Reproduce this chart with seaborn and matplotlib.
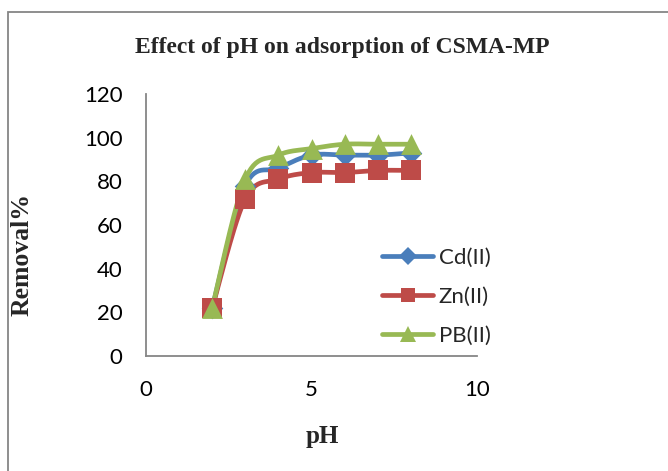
import numpy as np
import pandas as pd
import matplotlib
matplotlib.use("Agg")
import matplotlib.pyplot as plt
from matplotlib.lines import Line2D
from matplotlib.patches import Rectangle
import seaborn as sns

# pH values and removal percentages for each metal ion
ph = [2, 3, 4, 5, 6, 7, 8]
cd_removal = [22, 78, 86, 92, 92, 92, 93]
zn_removal = [22, 72, 81, 84, 84, 85, 85]
pb_removal = [22, 81, 92, 95, 97, 97, 97]

series_names = ["Cd(II)", "Zn(II)", "PB(II)"]
series_values = [cd_removal, zn_removal, pb_removal]
colors = ["#4a7ebb", "#be4b48", "#98b954"]
markers = ["D", "s", "^"]
marker_sizes = [11, 14, 15]
legend_marker_sizes = [9, 10, 11]

x_ticks = [0, 5, 10]
y_ticks = [0, 20, 40, 60, 80, 100, 120]


def smooth_curve(xs, ys, n=30):
    """Catmull-Rom spline through the points (smoothed line rendering)."""
    xs = np.asarray(xs, float)
    ys = np.asarray(ys, float)
    # work in roughly isotropic coordinates
    sx, sy = 10.0, 120.0 * 0.79
    px = np.concatenate([[xs[0]], xs, [xs[-1]]]) / sx
    py = np.concatenate([[ys[0]], ys, [ys[-1]]]) / sy
    out_x, out_y = [], []
    for i in range(1, len(px) - 2):
        p0 = np.array([px[i - 1], py[i - 1]])
        p1 = np.array([px[i], py[i]])
        p2 = np.array([px[i + 1], py[i + 1]])
        p3 = np.array([px[i + 2], py[i + 2]])
        c1 = p1 + (p2 - p0) / 6.0
        c2 = p2 - (p3 - p1) / 6.0
        t = np.linspace(0, 1, n)[:, None]
        pts = ((1 - t) ** 3) * p1 + 3 * ((1 - t) ** 2) * t * c1 + 3 * (1 - t) * t ** 2 * c2 + t ** 3 * p2
        out_x.extend(pts[:, 0] * sx)
        out_y.extend(pts[:, 1] * sy)
    return np.array(out_x), np.array(out_y)


sns.set_theme(style="white")
plt.rcParams["font.family"] = ["Lato", "DejaVu Sans"]

fig = plt.figure(figsize=(6.68, 4.71), dpi=100)
fig.patch.set_facecolor("white")

# chart-area border
fig.add_artist(Rectangle((8 / 668, -0.05), 1.0, 1 - 12 / 471 + 0.05,
                         transform=fig.transFigure, fill=False,
                         edgecolor="#868686", linewidth=1.3))

ax = fig.add_axes([146 / 668, (471 - 356) / 471, (477 - 146) / 668, (356 - 94) / 471])

for name, vals, col, mk, ms in zip(series_names, series_values, colors, markers, marker_sizes):
    cx, cy = smooth_curve(ph, vals)
    curve = pd.DataFrame({"pH": cx, "Removal": cy})
    sns.lineplot(data=curve, x="pH", y="Removal", ax=ax, color=col,
                 linewidth=3.4, sort=False, estimator=None, legend=False)
    pts = pd.DataFrame({"pH": ph, "Removal": vals})
    sns.scatterplot(data=pts, x="pH", y="Removal", ax=ax, color=col,
                    marker=mk, s=ms ** 2, edgecolor=col, linewidth=0,
                    legend=False, zorder=3)

ax.set_xlim(0, 10)
ax.set_ylim(0, 120)
ax.set_xticks(x_ticks)
ax.set_yticks(y_ticks)
ax.tick_params(axis="both", length=0, labelsize=16, colors="black")
ax.tick_params(axis="y", pad=17)
ax.tick_params(axis="x", pad=17)
for lbl in ax.get_xticklabels() + ax.get_yticklabels():
    lbl.set_fontfamily(["Lato", "DejaVu Sans"])

for side in ["top", "right"]:
    ax.spines[side].set_visible(False)
for side in ["left", "bottom"]:
    ax.spines[side].set_color("#868686")
    ax.spines[side].set_linewidth(1.3)

ax.set_xlabel("pH", fontfamily="Liberation Serif", fontweight="bold", fontsize=18)
ax.set_ylabel("Removal%", fontfamily="Liberation Serif", fontweight="bold", fontsize=18.5)
ax.xaxis.set_label_coords((322 - 146) / 331, (356 - 436) / 262)
ax.yaxis.set_label_coords((22 - 146) / 331, (356 - 255) / 262)
ax.xaxis.label.set_verticalalignment("center")
ax.yaxis.label.set_verticalalignment("center")

fig.text(342 / 668, 1 - 47 / 471, "Effect of pH on adsorption of CSMA-MP",
         ha="center", va="center", fontfamily="Liberation Serif",
         fontweight="bold", fontsize=17)

handles = [Line2D([0], [0], color=c, linewidth=3.4, marker=m, markersize=ms,
                  markeredgewidth=0)
           for c, m, ms in zip(colors, markers, legend_marker_sizes)]
leg = fig.legend(handles, series_names, loc="center left",
                 bbox_to_anchor=(382 / 668, 1 - 297 / 471), frameon=False,
                 fontsize=16, handlelength=2.3, handletextpad=0.25,
                 labelspacing=0.85, borderaxespad=0, borderpad=0)
for t in leg.get_texts():
    t.set_fontfamily(["Lato", "DejaVu Sans"])

fig.savefig("out.png", dpi=100, facecolor="white")
